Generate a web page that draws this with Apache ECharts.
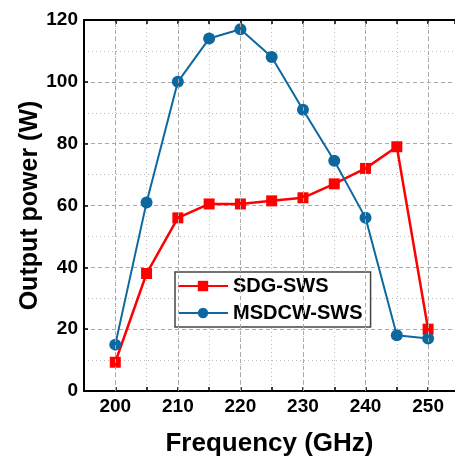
<!DOCTYPE html>
<html><head><meta charset="utf-8">
<script src="https://cdn.jsdelivr.net/npm/echarts@6/dist/echarts.min.js"></script>
<style>html,body{margin:0;padding:0;background:#fff}#c{width:455px;height:461px}</style>
</head><body><div id="c"></div>
<script>
const frequency = [200, 205, 210, 215, 220, 225, 230, 235, 240, 245, 250];
const sdgSws = [9.3, 38, 56, 60.5, 60.5, 61.5, 62.5, 67, 72, 79, 20];
const msdcwSws = [15, 61, 100, 114, 117, 108, 91, 74.5, 56, 18, 17];
const xMajorTicks = [200, 210, 220, 230, 240, 250];
const FONT = '"Liberation Sans", Arial, sans-serif';
const chart = echarts.init(document.getElementById('c'));
chart.setOption({
  animation: false,
  grid: {left: 84, top: 20, right: 0, height: 371, containLabel: false, outerBoundsMode: 'none'},
  legend: {
    left: 175, top: 272, orient: 'vertical',
    padding: [4, 8, 4, 2], itemGap: 7, itemWidth: 50, itemHeight: 13,
    borderColor: '#444', borderWidth: 1.5, backgroundColor: '#fff',
    textStyle: {fontFamily: FONT, fontWeight: 'bold', fontSize: 20, lineHeight: 20, color: '#000'},
    data: ['SDG-SWS', 'MSDCW-SWS']
  },
  xAxis: [{
    type: 'value', min: 195, max: 254.3, interval: 5,
    name: 'Frequency (GHz)', nameLocation: 'middle', nameGap: 40, nameMoveOverlap: false,
    nameTextStyle: {fontFamily: FONT, fontWeight: 'bold', fontSize: 26, color: '#000'},
    axisLine: {lineStyle: {color: '#000', width: 2}},
    axisTick: {inside: true, length: 4, lineStyle: {color: '#000', width: 1.5}},
    axisLabel: {fontFamily: FONT, fontWeight: 'bold', fontSize: 19, color: '#000', margin: 6,
      showMaxLabel: false,
      formatter: v => (v % 10 === 0 && v >= 200 && v <= 250) ? String(v) : ''},
    splitLine: {show: true, lineStyle: {color: '#bbb', type: [1, 3], width: 1}}
  }, {
    type: 'value', min: 195, max: 254.3, interval: 5, position: 'top',
    axisLine: {show: true, lineStyle: {color: '#000', width: 2}},
    axisTick: {show: true, inside: true, length: 4, lineStyle: {color: '#000', width: 1.5}},
    axisLabel: {show: false}, splitLine: {show: false}
  }],
  yAxis: {
    type: 'value', min: 0, max: 120, interval: 20,
    name: 'Output power (W)', nameLocation: 'middle', nameGap: 41, nameMoveOverlap: false,
    nameTextStyle: {fontFamily: FONT, fontWeight: 'bold', fontSize: 25, color: '#000'},
    axisLine: {show: true, lineStyle: {color: '#000', width: 2}},
    axisTick: {show: true, inside: true, length: 4, lineStyle: {color: '#000', width: 1.5}},
    axisLabel: {fontFamily: FONT, fontWeight: 'bold', fontSize: 19, color: '#000', margin: 6},
    splitLine: {show: true, lineStyle: {color: '#aaa', type: [4, 3], width: 1}},
    minorTick: {show: false, splitNumber: 2},
    minorSplitLine: {show: true, lineStyle: {color: '#bbb', type: [1, 3], width: 1}}
  },
  series: [{
    name: 'SDG-SWS', type: 'line', xAxisIndex: 0,
    data: frequency.map((f, i) => [f, sdgSws[i]]),
    symbol: 'rect', symbolSize: 11,
    lineStyle: {color: '#ff0000', width: 2.5}, itemStyle: {color: '#ff0000'},
    z: 3,
    markLine: {
      silent: true, symbol: 'none', label: {show: false},
      lineStyle: {color: '#aaa', type: [4, 3], width: 1},
      data: xMajorTicks.map(v => ({xAxis: v}))
    }
  }, {
    name: 'MSDCW-SWS', type: 'line', xAxisIndex: 0,
    data: frequency.map((f, i) => [f, msdcwSws[i]]),
    symbol: 'circle', symbolSize: 12,
    lineStyle: {color: '#0e68a0', width: 2}, itemStyle: {color: '#0e68a0'},
    z: 4
  }]
});
</script></body></html>
